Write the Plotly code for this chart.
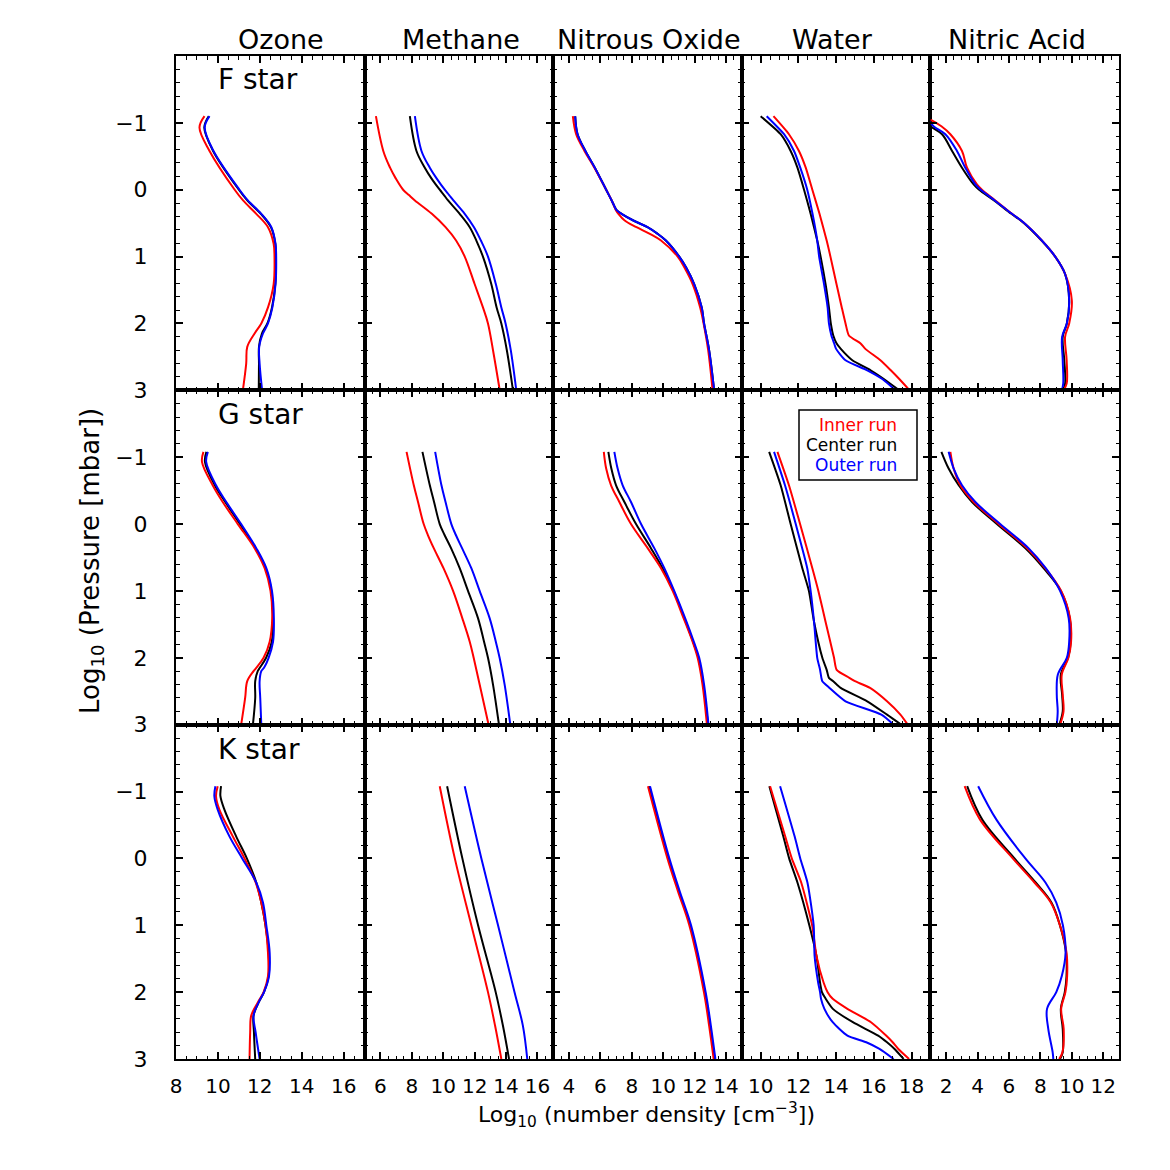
import plotly.graph_objects as go
from plotly.subplots import make_subplots

# Column / row labels
molecules = ["Ozone", "Methane", "Nitrous Oxide", "Water", "Nitric Acid"]
stars = ["F star", "G star", "K star"]
run_names = ["Inner run", "Center run", "Outer run"]

# ---- F star ----
f_ozone_p = [-1.1, -0.93, -0.58, 0, 0.16, 0.36, 0.56, 0.81, 1.0, 1.41, 1.76, 2.0, 2.15, 2.35, 2.6, 3.0]
f_ozone_inner = [9.36, 9.12, 9.6, 10.8, 11.2, 11.83, 12.39, 12.66, 12.7, 12.66, 12.39, 12.07, 11.75, 11.4, 11.35, 11.19]
f_ozone_center = [9.56, 9.35, 9.77, 11.0, 11.4, 12.05, 12.53, 12.74, 12.77, 12.74, 12.58, 12.36, 12.1, 11.96, 11.96, 11.95]
f_ozone_outer = [9.6, 9.37, 9.79, 11.03, 11.43, 12.07, 12.55, 12.75, 12.78, 12.75, 12.6, 12.39, 12.15, 11.97, 11.99, 12.11]

f_methane_p = [-1.1, -0.58, -0.33, -0.17, 0, 0.08, 0.16, 0.36, 0.56, 0.76, 1.0, 1.41, 1.76, 2.0, 2.4, 3.0]
f_methane_inner = [5.72, 6.19, 6.62, 6.98, 7.45, 7.82, 8.2, 9.28, 10.15, 10.82, 11.37, 12.0, 12.53, 12.85, 13.17, 13.6]
f_methane_center = [7.88, 8.3, 8.83, 9.25, 9.78, 10.05, 10.31, 11.05, 11.69, 12.11, 12.53, 13.06, 13.4, 13.7, 14.05, 14.44]
f_methane_outer = [8.2, 8.62, 9.15, 9.58, 10.1, 10.38, 10.65, 11.37, 11.96, 12.4, 12.85, 13.35, 13.7, 13.97, 14.3, 14.65]

f_n2o_p = [-1.1, -0.83, -0.58, -0.33, 0, 0.16, 0.31, 0.36, 0.46, 0.56, 0.66, 0.76, 1.0, 1.16, 1.41, 1.76, 2.0, 2.4, 3.0]
f_n2o_inner = [4.25, 4.46, 4.99, 5.62, 6.37, 6.72, 7.0, 7.15, 7.55, 8.3, 9.15, 9.86, 10.92, 11.34, 11.87, 12.35, 12.57, 12.86, 13.14]
f_n2o_center = [4.4, 4.55, 5.05, 5.65, 6.37, 6.72, 7.05, 7.35, 8.1, 9.0, 9.65, 10.17, 11.02, 11.45, 11.97, 12.45, 12.6, 12.92, 13.24]
f_n2o_outer = [4.4, 4.55, 5.05, 5.65, 6.37, 6.72, 7.05, 7.35, 8.1, 9.0, 9.65, 10.17, 11.02, 11.45, 11.97, 12.45, 12.6, 12.92, 13.24]

f_water_p = [-1.1, -0.83, -0.58, -0.33, 0, 0.36, 0.76, 1.0, 1.41, 1.76, 2.0, 2.18, 2.3, 2.38, 2.55, 2.7, 2.83, 3.0]
f_water_inner = [10.68, 11.5, 12.03, 12.39, 12.74, 13.12, 13.5, 13.7, 14.02, 14.3, 14.5, 14.68, 15.3, 15.55, 16.35, 16.9, 17.35, 17.9]
f_water_center = [10.0, 11.06, 11.59, 11.95, 12.3, 12.65, 13.0, 13.18, 13.44, 13.62, 13.72, 13.85, 14.03, 14.25, 14.86, 15.83, 16.53, 17.35]
f_water_outer = [10.32, 11.24, 11.77, 12.1, 12.47, 12.75, 13.0, 13.1, 13.36, 13.55, 13.62, 13.75, 13.9, 14.0, 14.5, 15.65, 16.45, 17.15]

f_hno3_p = [-1.05, -0.95, -0.83, -0.58, -0.33, -0.08, 0, 0.16, 0.36, 0.49, 0.76, 1.0, 1.26, 1.66, 2.0, 2.2, 2.55, 2.9, 3.0]
f_hno3_inner = [1.0, 1.7, 2.27, 3.01, 3.33, 3.96, 4.28, 5.13, 6.19, 6.93, 8.09, 8.94, 9.57, 10.0, 9.83, 9.57, 9.67, 9.67, 9.47]
f_hno3_center = [0.6, 1.0, 1.74, 2.38, 3.01, 3.75, 4.1, 5.05, 6.15, 6.9, 8.07, 8.94, 9.57, 9.83, 9.68, 9.42, 9.52, 9.57, 9.42]
f_hno3_outer = [0.85, 1.2, 1.95, 2.69, 3.22, 3.86, 4.2, 5.1, 6.19, 6.93, 8.09, 8.94, 9.57, 9.83, 9.68, 9.38, 9.42, 9.45, 9.36]

# ---- G star ----
g_ozone_p = [-1.08, -0.93, -0.58, -0.33, 0, 0.36, 0.66, 1.0, 1.41, 1.76, 2.0, 2.15, 2.2, 2.35, 2.6, 3.0]
g_ozone_inner = [9.31, 9.24, 9.75, 10.23, 10.95, 11.75, 12.23, 12.51, 12.59, 12.47, 12.18, 11.83, 11.7, 11.4, 11.3, 11.11]
g_ozone_center = [9.45, 9.38, 9.85, 10.35, 11.05, 11.8, 12.28, 12.55, 12.63, 12.57, 12.3, 12.0, 11.9, 11.78, 11.78, 11.67]
g_ozone_outer = [9.52, 9.44, 9.91, 10.4, 11.11, 11.83, 12.31, 12.58, 12.67, 12.63, 12.42, 12.2, 12.07, 11.99, 12.02, 12.07]

g_methane_p = [-1.08, -0.58, -0.33, 0, 0.16, 0.36, 0.66, 1.0, 1.41, 1.76, 2.0, 2.4, 3.0]
g_methane_inner = [7.67, 8.13, 8.4, 8.76, 9.02, 9.4, 10.02, 10.63, 11.22, 11.69, 11.94, 12.32, 12.89]
g_methane_center = [8.68, 9.15, 9.42, 9.78, 10.08, 10.5, 11.05, 11.58, 12.22, 12.6, 12.85, 13.17, 13.55]
g_methane_outer = [9.49, 9.89, 10.15, 10.52, 10.8, 11.2, 11.79, 12.32, 12.96, 13.35, 13.59, 13.91, 14.27]

g_n2o_p = [-1.08, -0.83, -0.58, -0.33, 0, 0.36, 0.66, 1.0, 1.41, 1.76, 2.0, 2.4, 3.0]
g_n2o_inner = [6.22, 6.37, 6.68, 7.21, 7.95, 9.01, 9.86, 10.6, 11.3, 11.87, 12.19, 12.5, 12.78]
g_n2o_center = [6.51, 6.7, 7.0, 7.53, 8.27, 9.22, 9.96, 10.66, 11.35, 11.9, 12.24, 12.55, 12.85]
g_n2o_outer = [6.89, 7.1, 7.42, 7.95, 8.59, 9.43, 10.07, 10.7, 11.4, 11.95, 12.29, 12.6, 12.88]

g_water_p = [-1.08, -0.58, 0, 0.66, 1.0, 1.46, 2.0, 2.18, 2.3, 2.35, 2.45, 2.65, 2.85, 3.0]
g_water_inner = [10.89, 11.5, 12.09, 12.74, 13.06, 13.44, 13.89, 14.03, 14.7, 15.0, 15.8, 16.7, 17.41, 17.8]
g_water_center = [10.45, 11.06, 11.59, 12.21, 12.56, 12.83, 13.27, 13.5, 13.62, 13.85, 14.24, 15.65, 16.7, 17.45]
g_water_outer = [10.71, 11.29, 11.86, 12.47, 12.65, 12.83, 13.0, 13.15, 13.22, 13.27, 13.65, 14.5, 16.4, 17.05]

g_hno3_p = [-1.08, -0.83, -0.58, -0.33, 0, 0.36, 0.66, 1.0, 1.41, 1.76, 2.0, 2.25, 2.55, 2.8, 3.0]
g_hno3_inner = [2.27, 2.48, 2.9, 3.75, 5.34, 7.14, 8.3, 9.32, 9.89, 9.95, 9.78, 9.36, 9.42, 9.47, 9.25]
g_hno3_center = [1.7, 2.16, 2.8, 3.65, 5.23, 7.03, 8.2, 9.3, 9.87, 9.93, 9.76, 9.3, 9.38, 9.42, 9.2]
g_hno3_outer = [2.16, 2.48, 3.01, 3.86, 5.44, 7.24, 8.34, 9.25, 9.8, 9.83, 9.68, 9.11, 9.04, 9.1, 9.04]

# ---- K star ----
k_ozone_p = [-1.08, -0.93, -0.73, -0.33, 0, 0.36, 0.66, 1.0, 1.41, 1.76, 2.0, 2.15, 2.35, 2.6, 3.0]
k_ozone_inner = [9.99, 9.91, 10.07, 10.71, 11.27, 11.8, 12.07, 12.27, 12.39, 12.39, 12.18, 11.91, 11.59, 11.54, 11.51]
k_ozone_center = [10.15, 10.12, 10.31, 10.87, 11.38, 11.83, 12.07, 12.27, 12.42, 12.42, 12.2, 11.95, 11.7, 11.72, 11.78]
k_ozone_outer = [9.88, 9.83, 9.99, 10.55, 11.16, 11.83, 12.15, 12.31, 12.47, 12.44, 12.2, 11.95, 11.7, 11.8, 11.99]

k_methane_p = [-1.08, 0, 1.0, 2.0, 2.5, 3.0]
k_methane_inner = [9.78, 10.74, 11.79, 12.85, 13.3, 13.7]
k_methane_center = [10.25, 11.22, 12.22, 13.34, 13.8, 14.19]
k_methane_outer = [11.37, 12.43, 13.49, 14.54, 15.07, 15.35]

k_n2o_p = [-1.08, 0, 0.5, 1.0, 2.0, 2.5, 3.0]
k_n2o_inner = [9.03, 10.27, 10.95, 11.66, 12.59, 12.92, 13.21]
k_n2o_center = [9.1, 10.33, 11.0, 11.72, 12.65, 12.98, 13.27]
k_n2o_outer = [9.16, 10.39, 11.06, 11.77, 12.7, 13.03, 13.32]

k_water_p = [-1.08, -0.33, 0, 0.36, 1.0, 1.46, 1.86, 2.0, 2.1, 2.25, 2.45, 2.65, 2.75, 2.85, 3.0]
k_water_inner = [10.5, 11.3, 11.65, 12.15, 12.73, 12.96, 13.34, 13.55, 13.82, 14.6, 15.85, 16.65, 17.0, 17.3, 17.87]
k_water_center = [10.46, 11.2, 11.51, 11.95, 12.58, 12.96, 13.15, 13.25, 13.45, 13.83, 14.89, 16.23, 16.7, 17.1, 17.58]
k_water_outer = [11.03, 11.8, 12.1, 12.48, 12.81, 12.86, 13.05, 13.15, 13.2, 13.38, 13.82, 14.6, 15.6, 16.3, 17.05]

k_hno3_p = [-1.08, -0.58, 0, 0.36, 0.66, 1.0, 1.41, 1.76, 2.0, 2.25, 2.55, 2.9, 3.0]
k_hno3_inner = [3.18, 4.16, 6.24, 7.62, 8.66, 9.24, 9.66, 9.7, 9.59, 9.32, 9.48, 9.4, 9.19]
k_hno3_center = [3.34, 4.3, 6.35, 7.7, 8.7, 9.24, 9.63, 9.66, 9.55, 9.3, 9.42, 9.42, 9.25]
k_hno3_outer = [4.04, 5.2, 7.04, 8.32, 9.01, 9.43, 9.6, 9.36, 9.01, 8.42, 8.5, 8.78, 8.82]

panels = [
    [(f_ozone_p, f_ozone_inner, f_ozone_center, f_ozone_outer),
     (f_methane_p, f_methane_inner, f_methane_center, f_methane_outer),
     (f_n2o_p, f_n2o_inner, f_n2o_center, f_n2o_outer),
     (f_water_p, f_water_inner, f_water_center, f_water_outer),
     (f_hno3_p, f_hno3_inner, f_hno3_center, f_hno3_outer)],
    [(g_ozone_p, g_ozone_inner, g_ozone_center, g_ozone_outer),
     (g_methane_p, g_methane_inner, g_methane_center, g_methane_outer),
     (g_n2o_p, g_n2o_inner, g_n2o_center, g_n2o_outer),
     (g_water_p, g_water_inner, g_water_center, g_water_outer),
     (g_hno3_p, g_hno3_inner, g_hno3_center, g_hno3_outer)],
    [(k_ozone_p, k_ozone_inner, k_ozone_center, k_ozone_outer),
     (k_methane_p, k_methane_inner, k_methane_center, k_methane_outer),
     (k_n2o_p, k_n2o_inner, k_n2o_center, k_n2o_outer),
     (k_water_p, k_water_inner, k_water_center, k_water_outer),
     (k_hno3_p, k_hno3_inner, k_hno3_center, k_hno3_outer)],
]

x_ranges = [[8, 17], [5, 17], [3, 15], [9, 19], [1, 13]]
FONT = "DejaVu Sans"

# plot area in page pixels; the page body adds ~7px, so shift by that
OFF = 7
L, R, T, B = 175 - OFF, 1118 - OFF, 55 - OFF, 1058 - OFF
W, H = R - L, B - T


def px(x):
    return (x - OFF - L) / W


def py(y):
    return (B - (y - OFF)) / H


fig = make_subplots(rows=3, cols=5, horizontal_spacing=0, vertical_spacing=0)

# draw order: center, inner, outer
for r in range(3):
    for c in range(5):
        p, inner, center, outer = panels[r][c]
        smooth = 0.6 if c == 3 else 1.0
        for vals, color, name in ((center, "black", run_names[1]),
                                  (inner, "red", run_names[0]),
                                  (outer, "blue", run_names[2])):
            fig.add_trace(go.Scatter(
                x=vals, y=p, mode="lines", name=name, showlegend=False,
                line=dict(color=color, width=2, shape="spline", smoothing=smooth),
            ), row=r + 1, col=c + 1)

for r in range(3):
    for c in range(5):
        fig.update_xaxes(
            range=x_ranges[c], tick0=0, dtick=2,
            showline=True, linecolor="black", linewidth=2, mirror="allticks",
            ticks="inside", ticklen=7, tickwidth=1.5, tickcolor="black",
            minor=dict(dtick=0.5, ticks="inside", ticklen=3.5, tickwidth=1.2, tickcolor="black"),
            showgrid=False, zeroline=False,
            showticklabels=(r == 2), ticklabelstandoff=8,
            tickfont=dict(family=FONT, size=20, color="black"),
            row=r + 1, col=c + 1)
        fig.update_yaxes(
            range=[3, -2], tickvals=[-1, 0, 1, 2, 3],
            showline=True, linecolor="black", linewidth=2, mirror="allticks",
            ticks="inside", ticklen=7, tickwidth=1.5, tickcolor="black",
            minor=dict(dtick=0.2, ticks="inside", ticklen=3.5, tickwidth=1.2, tickcolor="black"),
            showgrid=False, zeroline=False,
            showticklabels=(c == 0), ticklabelstandoff=22,
            tickfont=dict(family=FONT, size=22, color="black"),
            row=r + 1, col=c + 1)

annotations = []
col_title_x = [280, 460, 648, 831, 1016]
for name, cx in zip(molecules, col_title_x):
    annotations.append(dict(text=name, x=px(cx), y=py(38), xref="paper", yref="paper",
                            showarrow=False, xanchor="center", yanchor="middle",
                            font=dict(family=FONT, size=27, color="black")))
for i, star in enumerate(stars):
    annotations.append(dict(text=star, x=px(215), y=py(78 + i * 335), xref="paper", yref="paper",
                            showarrow=False, xanchor="left", yanchor="middle",
                            font=dict(family=FONT, size=28, color="black")))
annotations.append(dict(text="Log<sub>10</sub> (number density [cm<sup>−3</sup>])",
                        x=px(645), y=py(1114), xref="paper", yref="paper",
                        showarrow=False, xanchor="center", yanchor="middle",
                        font=dict(family=FONT, size=22, color="black")))
annotations.append(dict(text="Log<sub>10</sub> (Pressure [mbar])",
                        x=px(90), y=py(560), xref="paper", yref="paper", textangle=-90,
                        showarrow=False, xanchor="center", yanchor="middle",
                        font=dict(family=FONT, size=26, color="black")))

# legend box in the G-star water panel
legend_colors = ["red", "black", "blue"]
for i, (name, col) in enumerate(zip(run_names, legend_colors)):
    annotations.append(dict(text=name, x=px(898), y=py(424 + 20 * i), xref="paper", yref="paper",
                            showarrow=False, xanchor="right", yanchor="middle",
                            font=dict(family=FONT, size=17, color=col)))

fig.add_shape(type="rect", xref="paper", yref="paper",
              x0=px(798), x1=px(916), y0=py(479), y1=py(409),
              line=dict(color="black", width=1.5), fillcolor="rgba(0,0,0,0)")

fig.update_layout(
    width=1170, height=1170,
    margin=dict(l=L, r=1170 - R, t=T, b=1170 - B),
    plot_bgcolor="white", paper_bgcolor="white",
    annotations=annotations,
    showlegend=False,
)

fig.write_html("out.html")
